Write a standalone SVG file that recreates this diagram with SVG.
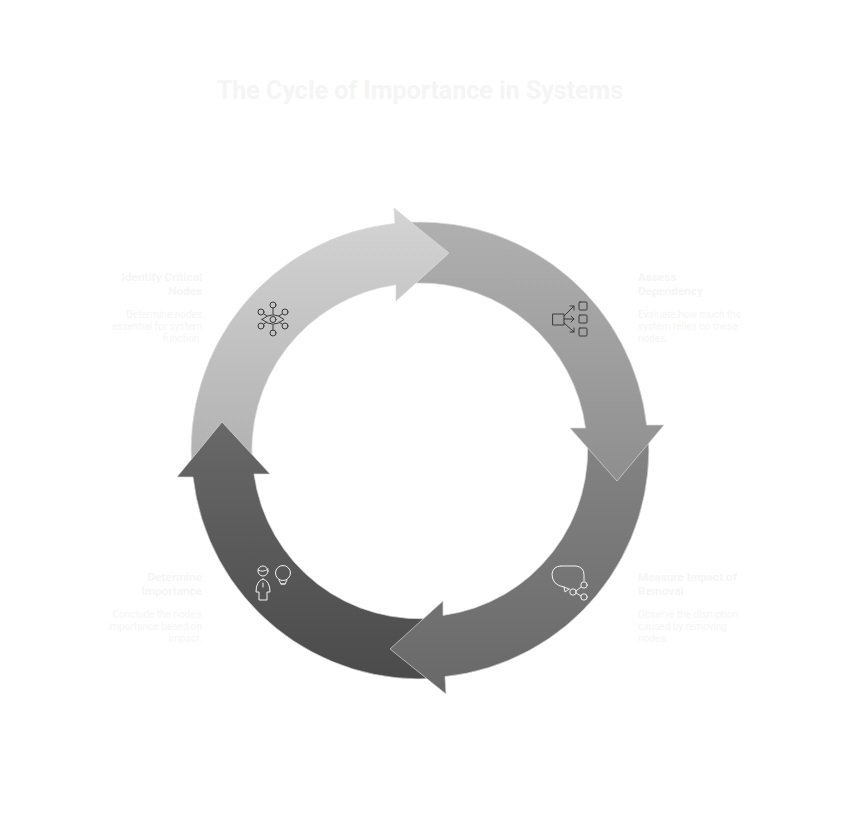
<svg xmlns="http://www.w3.org/2000/svg" width="841" height="817" viewBox="0 0 841 817">
<style>
text{font-family:Roboto,"Liberation Sans",sans-serif;fill:#f5f5f5}
.t{font-size:25px;font-weight:700}
.h{font-size:11.7px;font-weight:700}
.b{font-size:10px}
.e{text-anchor:end}
.a{stroke:#d8d8d8;stroke-opacity:.7;stroke-width:1}
.i{fill:none;stroke-width:1;stroke-linecap:round;stroke-linejoin:round}
.k{stroke:#3a3a3a}
.w{stroke:#f2f2f2}
</style>
<defs>
<linearGradient id="g1" x1="0" y1="0" x2="0" y2="1"><stop offset="0" stop-color="#d4d4d4"/><stop offset="1" stop-color="#b0b0b0"/></linearGradient>
<linearGradient id="g2" x1="0" y1="0" x2="0" y2="1"><stop offset="0" stop-color="#b0b0b0"/><stop offset="1" stop-color="#8e8e8e"/></linearGradient>
<linearGradient id="g3" x1="0" y1="0" x2="0" y2="1"><stop offset="0" stop-color="#858585"/><stop offset="1" stop-color="#686868"/></linearGradient>
<linearGradient id="g4" x1="0" y1="0" x2="0" y2="1"><stop offset="0" stop-color="#686868"/><stop offset="1" stop-color="#4b4b4b"/></linearGradient>
</defs>
<text class="t" x="420" y="99" text-anchor="middle">The Cycle of Importance in Systems</text>
<g id="connectors">
<path id="arrow1" class="a" fill="url(#g1)" d="M192 470 A228 228 0 0 1 395 223.4 L394 208 L449 253 L396 301 L396 284.7 A167 167 0 0 0 253 470 Z"/>
<path id="arrow4" class="a" fill="url(#g4)" d="M440 678 A228 228 0 0 1 193 477 L177 477 L222 422 L270 474 L254 474 A167 167 0 0 0 440 617.500 Z"/>
<path id="arrow3" class="a" fill="url(#g3)" d="M648 430 A228 228 0 0 1 445 676.6 L446 694 L390 649 L443 601 L443 615.4 A167 167 0 0 0 586.500 430 Z"/>
<path id="arrow2" class="a" fill="url(#g2)" d="M411 222.200 A228 228 0 0 1 646.6 425 L664 425 L617 481 L570 428 L585.5 428 A167 167 0 0 0 416 283 L449 253 Z"/>
</g>
<g id="node1">
<text class="h e" x="202" y="281">Identify Critical</text><text class="h e" x="202" y="295">Nodes</text>
<text class="b e" x="202" y="317.500">Determine nodes</text><text class="b e" x="202" y="329.500">essential for system</text><text class="b e" x="202" y="341.500">function.</text>
<g class="i k"><path d="M262 319.500 Q273 310 284 319.500 Q273 329 262 319.500Z"/><circle cx="273" cy="319.500" r="3"/>
<circle cx="273" cy="305" r="3"/><circle cx="273" cy="333" r="3"/><circle cx="261" cy="312" r="3"/><circle cx="285" cy="312" r="3"/><circle cx="261" cy="326" r="3"/><circle cx="285" cy="326" r="3"/>
<path d="M273 308V314M273 325V330M264 314L267 316M282 314L279 316M264 324L267 322M282 324L279 322"/></g>
</g>
<g id="node2">
<text class="h" x="638" y="281">Assess</text><text class="h" x="638" y="295">Dependency</text>
<text class="b" x="638" y="317.500">Evaluate how much the</text><text class="b" x="638" y="329.500">system relies on these</text><text class="b" x="638" y="341.500">nodes.</text>
<g class="i k"><rect x="553" y="314" width="11" height="11"/><rect x="579" y="302" width="8" height="8" rx="1"/><rect x="579" y="315" width="8" height="8" rx="1"/><rect x="579" y="328" width="8" height="8" rx="1"/>
<path d="M564 316L574 306M570 306H574V310M564 319H574M571 316L574 319L571 322M564 323L574 332M570 332H574V328"/></g>
</g>
<g id="node3">
<text class="h" x="638" y="581">Measure Impact of</text><text class="h" x="638" y="595">Removal</text>
<text class="b" x="638" y="617.500">Observe the disruption</text><text class="b" x="638" y="629.500">caused by removing</text><text class="b" x="638" y="641.500">nodes.</text>
<g class="i w"><path d="M561 566H576Q584 567 584 575V581M569 589L564 587Q552 585 552 574Q553 566 561 566M564 587L565 592L569 589"/><circle cx="573" cy="592" r="3.200"/><circle cx="584" cy="585" r="3.200"/><circle cx="584" cy="597" r="3.200"/><path d="M576 591L581 587M576 593L581 596"/></g>
</g>
<g id="node4">
<text class="h e" x="202" y="581">Determine</text><text class="h e" x="202" y="595">Importance</text>
<text class="b e" x="202" y="617.500">Conclude the node's</text><text class="b e" x="202" y="629.500">importance based on</text><text class="b e" x="202" y="641.500">impact.</text>
<g class="i w"><circle cx="263" cy="571" r="5"/><path d="M258 570Q263 573 268 569"/><path d="M263 579Q256 581 256 592H259V600H267V592H270Q270 581 263 579ZM263 583V587"/><circle cx="283" cy="573" r="7.500"/><path d="M279 580L281 584H285L287 580M281 584H285"/></g>
</g>
</svg>
